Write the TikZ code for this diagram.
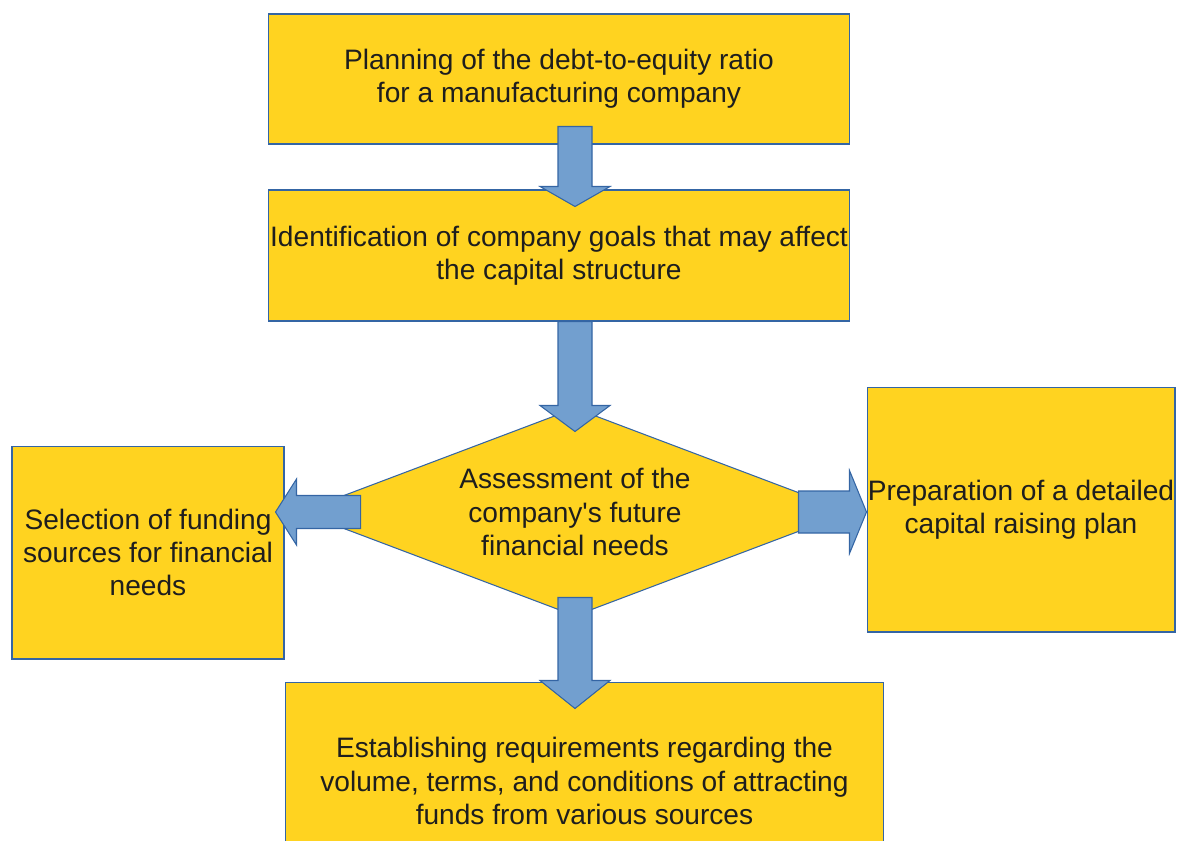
\documentclass[tikz,border=0pt]{standalone}
\usepackage{fontspec}
\setmainfont{Liberation Sans}[Ligatures=TeXOff]
\usetikzlibrary{shapes.geometric,calc}

\definecolor{boxyellow}{HTML}{FFD320}
\definecolor{boxline}{HTML}{3465A4}
\definecolor{arrowblue}{HTML}{729FCF}
\definecolor{textgrey}{HTML}{1E1E1E}

\tikzset{
  stage/.style={draw=boxline, fill=boxyellow, line width=0.6pt, text=textgrey,
    align=center, inner sep=0pt, font=\fontsize{16}{19}\selectfont},
  decision/.style={stage, diamond, shape aspect=2.6},
  bigarrow/.style={draw=boxline, fill=arrowblue, line width=0.6pt, line join=miter},
}

% block arrow: #1 half shaft, #2 half head, #3 head length, #4 start, #5 tip
\newcommand\blockarrow[5]{%
  \coordinate (s) at (#4);
  \coordinate (t) at (#5);
  \coordinate (b) at ($(t)!#3!(s)$);
  \filldraw[bigarrow] ($(s)!#1!90:(t)$) -- ($(b)!#1!90:(t)$) -- ($(b)!#2!90:(t)$)
    -- (t) -- ($(b)!#2!-90:(t)$) -- ($(b)!#1!-90:(t)$) -- ($(s)!#1!-90:(t)$) -- cycle;
}

\begin{document}
\begin{tikzpicture}[x=0.02cm, y=-0.02cm]
\useasboundingbox (0,0) rectangle (1177,840);
\clip (0,0) rectangle (1177,840);

% stages
\node[stage, minimum width=11.64cm, minimum height=2.6cm] (plan) at (559,79)
  {Planning of the debt-to-equity ratio\\for a manufacturing company};
\node[stage, minimum width=11.64cm, minimum height=2.62cm] (goals) at (559,255.5)
  {Identification of company goals that may affect\\the capital structure};
\node[decision, minimum width=11cm, minimum height=4.16cm] (assess) at (575,512)
  {Assessment of the\\company's future\\financial needs};
\node[stage, minimum width=5.44cm, minimum height=4.26cm] (select) at (148,552.5)
  {Selection of funding\\sources for financial\\needs};
\node[stage, minimum width=6.16cm, minimum height=4.9cm] (prep) at (1021,509.5)
  {Preparation of a detailed\\capital raising plan};
\node[stage, minimum width=11.98cm, minimum height=3.96cm] (establish) at (584.5,781)
  {Establishing requirements regarding the\\volume, terms, and conditions of attracting\\funds from various sources};

% arrows between stages
\blockarrow{0.34cm}{0.7cm}{0.4cm}{$(plan.south -| assess.north)+(0,-18)$}{$(goals.north -| assess.north)+(0,17)$}
\blockarrow{0.34cm}{0.7cm}{0.52cm}{goals.south -| assess.north}{$(assess.north)+(0,24)$}
\blockarrow{0.34cm}{0.7cm}{0.56cm}{$(assess.south)+(0,-19)$}{$(establish.north -| assess.south)+(0,27)$}
\blockarrow{0.33cm}{0.66cm}{0.42cm}{$(assess.west)+(61,0)$}{$(select.east |- assess.west)+(-9,0)$}
\blockarrow{0.42cm}{0.83cm}{0.34cm}{$(assess.east)+(-52,0)$}{prep.west |- assess.east}
\end{tikzpicture}
\end{document}
